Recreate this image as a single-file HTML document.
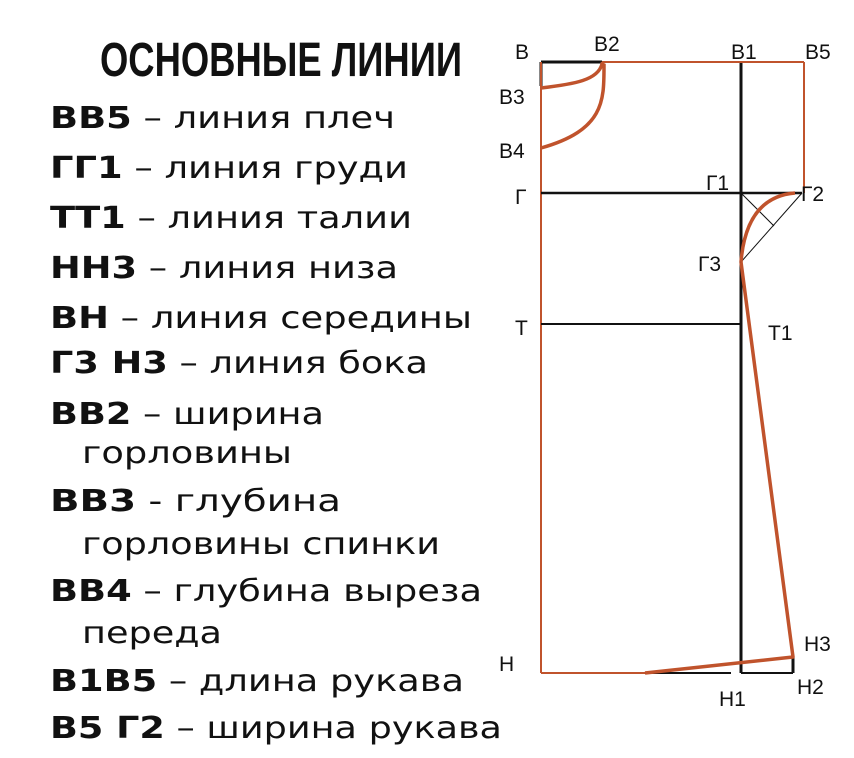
<!DOCTYPE html>
<html><head><meta charset="utf-8"><style>
html,body{margin:0;padding:0;background:#fff;}
body{width:854px;height:758px;overflow:hidden;position:relative;}
svg{position:absolute;left:0;top:0;}
</style></head><body>
<svg width="854" height="758" viewBox="0 0 854 758" xmlns="http://www.w3.org/2000/svg">
<text x="100" y="76" font-family="'Liberation Sans Narrow','Liberation Sans',sans-serif" font-weight="bold" font-size="48" textLength="362" lengthAdjust="spacingAndGlyphs" fill="#111">ОСНОВНЫЕ ЛИНИИ</text>
<g font-family="'DejaVu Sans',sans-serif" font-size="30" fill="#111">
<text x="50" y="128" textLength="345" lengthAdjust="spacingAndGlyphs"><tspan font-weight="bold">ВВ5</tspan> – линия плеч</text>
<text x="50" y="178" textLength="358" lengthAdjust="spacingAndGlyphs"><tspan font-weight="bold">ГГ1</tspan> – линия груди</text>
<text x="50" y="228" textLength="362" lengthAdjust="spacingAndGlyphs"><tspan font-weight="bold">ТТ1</tspan> – линия талии</text>
<text x="50" y="278" textLength="348" lengthAdjust="spacingAndGlyphs"><tspan font-weight="bold">НН3</tspan> – линия низа</text>
<text x="50" y="328" textLength="422" lengthAdjust="spacingAndGlyphs"><tspan font-weight="bold">ВН</tspan> – линия середины</text>
<text x="50" y="373" textLength="378" lengthAdjust="spacingAndGlyphs"><tspan font-weight="bold">Г3 Н3</tspan> – линия бока</text>
<text x="50" y="424" textLength="274" lengthAdjust="spacingAndGlyphs"><tspan font-weight="bold">ВВ2</tspan> – ширина</text>
<text x="82" y="463" textLength="210" lengthAdjust="spacingAndGlyphs">горловины</text>
<text x="50" y="511" textLength="291" lengthAdjust="spacingAndGlyphs"><tspan font-weight="bold">ВВ3</tspan>  - глубина</text>
<text x="82" y="554" textLength="358" lengthAdjust="spacingAndGlyphs">горловины спинки</text>
<text x="50" y="601" textLength="432" lengthAdjust="spacingAndGlyphs"><tspan font-weight="bold">ВВ4</tspan> – глубина выреза</text>
<text x="82" y="643" textLength="140" lengthAdjust="spacingAndGlyphs">переда</text>
<text x="50" y="691" textLength="414" lengthAdjust="spacingAndGlyphs"><tspan font-weight="bold">В1В5</tspan> – длина рукава</text>
<text x="50" y="738" textLength="452" lengthAdjust="spacingAndGlyphs"><tspan font-weight="bold">В5 Г2</tspan> – ширина рукава</text>
</g>
<g fill="none" stroke-linecap="butt">
<line x1="541" y1="62" x2="804" y2="62" stroke="#c0532c" stroke-width="2"/>
<line x1="541" y1="62" x2="602" y2="62" stroke="#111" stroke-width="3"/>
<line x1="541" y1="62" x2="541" y2="86" stroke="#111" stroke-width="3"/>
<line x1="541" y1="62" x2="541" y2="673" stroke="#c0532c" stroke-width="2"/>
<line x1="804" y1="62" x2="804" y2="193" stroke="#c0532c" stroke-width="2"/>
<line x1="541" y1="193" x2="802" y2="193" stroke="#111" stroke-width="2.5"/>
<line x1="541" y1="324" x2="741" y2="324" stroke="#111" stroke-width="2"/>
<line x1="741" y1="63" x2="741" y2="673" stroke="#111" stroke-width="3"/>
<line x1="541" y1="673" x2="731" y2="673" stroke="#111" stroke-width="2"/>
<line x1="741" y1="673" x2="793" y2="673" stroke="#111" stroke-width="2"/>
<line x1="793" y1="657" x2="793" y2="673" stroke="#111" stroke-width="3"/>
<line x1="541" y1="673" x2="645" y2="673" stroke="#c0532c" stroke-width="2"/>
<line x1="741" y1="193" x2="774" y2="226" stroke="#111" stroke-width="1"/>
<line x1="802" y1="193" x2="741" y2="262" stroke="#111" stroke-width="1"/>
<path d="M541 88 C575 84 598 80 602 64 L604 65 C604 100 605 130 541 148" stroke="#c0532c" stroke-width="3.5"/>
<path d="M741 262 C744 225 758 196 795 193" stroke="#c0532c" stroke-width="3.5"/>
<path d="M741 262 L793 657 L645 673" stroke="#c0532c" stroke-width="3.5" stroke-linejoin="round"/>
</g>
<g font-family="'Liberation Sans',sans-serif" font-size="21" fill="#111">
<text x="515" y="59">В</text>
<text x="594" y="51">В2</text>
<text x="731" y="59">В1</text>
<text x="805" y="59">В5</text>
<text x="499" y="104">В3</text>
<text x="499" y="158">В4</text>
<text x="515" y="204">Г</text>
<text x="706" y="190">Г1</text>
<text x="801" y="201">Г2</text>
<text x="698" y="271">Г3</text>
<text x="515" y="335">Т</text>
<text x="768" y="340">Т1</text>
<text x="499" y="671">Н</text>
<text x="804" y="651">Н3</text>
<text x="797" y="694">Н2</text>
<text x="719" y="706">Н1</text>
</g>
</svg>
</body></html>
